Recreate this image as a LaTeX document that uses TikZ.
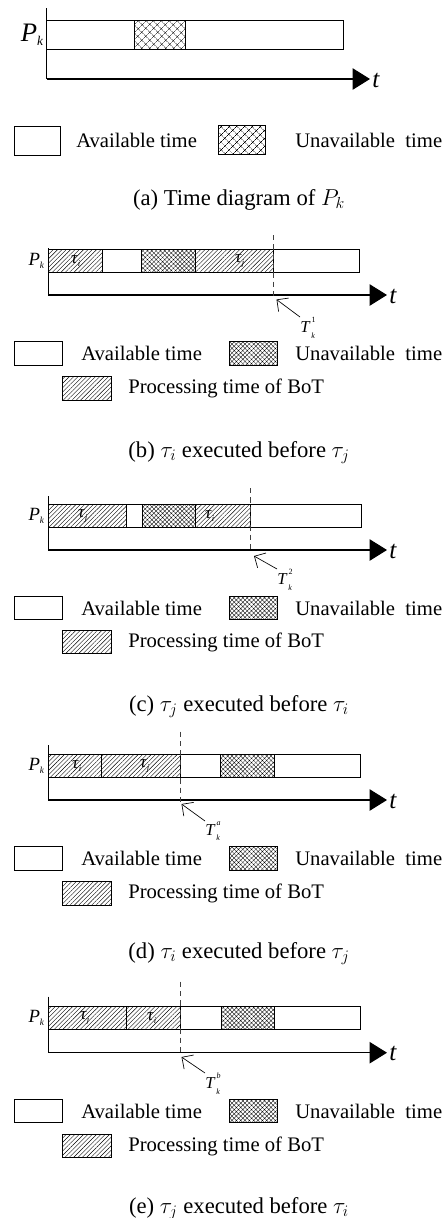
\documentclass[tikz,border=0pt]{standalone}
\usepackage{amsmath}
\usepackage{fontspec}
\setmainfont{Liberation Serif}
\usetikzlibrary{arrows.meta,patterns.meta}

\tikzset{
  bar/.style={draw, line width=0.7pt},
  unavail/.style={draw, line width=0.7pt, pattern={Hatch[angle=45,distance=2.3pt,line width=0.25pt]}},
  unavailwide/.style={draw, line width=0.7pt, pattern={Hatch[angle=45,distance=4pt,line width=0.35pt]}},
  busy/.style={draw, line width=0.7pt, pattern={Lines[angle=45,distance=2.3pt,line width=0.3pt]}},
  axis/.style={line width=0.8pt},
  taxis/.style={line width=0.8pt, -{Triangle[length=13pt,width=16pt]}},
  cutline/.style={line width=0.7pt, black!75, dash pattern=on 4pt off 3pt},
  marker/.style={line width=0.5pt, -{Straight Barb[angle=90:9pt]}},
  plabel/.style={anchor=east, inner sep=0pt, font=\fontsize{14}{16}\selectfont},
  tlabel/.style={anchor=west, inner sep=0pt, font=\fontsize{19}{22}\selectfont\itshape},
  tasklabel/.style={inner sep=0pt, font=\fontsize{13}{15}\selectfont},
  marklabel/.style={anchor=north west, inner sep=0pt, font=\fontsize{12.5}{14}\selectfont},
  legtext/.style={anchor=west, inner sep=0pt, font=\fontsize{15.5}{18}\selectfont},
  caption/.style={anchor=base, inner sep=0pt, font=\fontsize{17}{20}\selectfont}
}
\newcommand{\Pk}{\textit{P}$_{\scriptscriptstyle\textit{k}}$}
\newcommand{\tsk}[1]{\textit{τ}$_{\scriptscriptstyle\textit{#1}}$}
\newcommand{\Tk}[1]{\textit{T}\kern0.8pt\raisebox{0.6em}{\fontsize{6}{7}\selectfont #1}\kern-3.2pt\raisebox{-0.35em}{\fontsize{6}{7}\selectfont\textit{k}}}

\begin{document}
\begin{tikzpicture}[x=0.75pt,y=0.75pt,yscale=-1,xscale=1]
\path[use as bounding box] (0,0) rectangle (443,1218);

%%%% (a) time diagram of P_k
%Axes
\draw[axis] (46.7,8) -- (46.7,79);
\draw[taxis] (46.7,79) -- (370,79);
%Bar
\draw[bar] (46.7,20.7) rectangle (343,49.3);
\draw[unavailwide] (134,20.7) rectangle (185.7,49.3);
% Text Node
\node[plabel, font=\fontsize{20}{22}\selectfont] (Pa) at (44,35) {\Pk};
\node[tlabel] (ta) at (372,80) {t};
%Legend
\draw[bar] (14,126) rectangle (60,155.7);
\node[legtext] (availa) at (76,140.5) {Available time};
\draw[unavailwide] (218,125) rectangle (265.7,154);
\node[legtext] (unavaila) at (295,140) {Unavailable\ \ time};
% Caption
\node[caption] (capa) at (239,205) {(a) Time diagram of $P_k$};

%%%% (b) tau_i before tau_j
\draw[axis] (48.3,248) -- (48.3,295);
\draw[taxis] (48.3,295) -- (387,295);
\draw[busy] (48.3,249) rectangle (102.7,272.3);
\draw[bar] (102.7,249) rectangle (141.3,272.3);
\draw[unavail] (141.3,249) rectangle (195,272.3);
\draw[busy] (195,249) rectangle (273.3,272.3);
\draw[bar] (273.3,249) rectangle (359,272.3);
\node[tasklabel] (tib) at (76,261) {\tsk{i}};
\node[tasklabel] (tjb) at (240,261) {\tsk{j}};
\node[plabel] (Pb) at (45,261) {\Pk};
\node[tlabel] (tb) at (389,296) {t};
%Completion time
\draw[cutline] (273.3,235) -- (273.3,297);
\coordinate (tipb) at (276.5,299.5);
\node[marklabel] (Tb) at (300,317) {\Tk{1}};
\draw[marker] (Tb.north west) -- (tipb);
%Legend
\draw[bar] (14,341.7) rectangle (62.3,365);
\node[legtext] (availb) at (81,353.5) {Available time};
\draw[unavail] (229,341.7) rectangle (277.7,365);
\node[legtext] (unavailb) at (295,353.5) {Unavailable\ \ time};
\draw[busy] (62.3,376.7) rectangle (111,400);
\node[legtext] (busyb) at (128,388.5) {Processing time of BoT};
% Caption
\node[caption] (capb) at (239,457) {(b) $\tau_i$ executed before $\tau_j$};

%%%% (c) tau_j before tau_i
\draw[axis] (48.3,496) -- (48.3,550);
\draw[taxis] (48.3,550) -- (387,550);
\draw[busy] (48.3,504.3) rectangle (126.3,527.7);
\draw[bar] (126.3,504.3) rectangle (142.7,527.7);
\draw[unavail] (142.7,504.3) rectangle (195.7,527.7);
\draw[busy] (195.7,504.3) rectangle (250.7,527.7);
\draw[bar] (250.7,504.3) rectangle (361.7,527.7);
\node[tasklabel] (tjc) at (83,516) {\tsk{j}};
\node[tasklabel] (tic) at (210,516) {\tsk{i}};
\node[plabel] (Pc) at (45,516) {\Pk};
\node[tlabel] (tc) at (389,551) {t};
%Completion time
\draw[cutline] (250.7,488) -- (250.7,553);
\coordinate (tipc) at (254,556);
\node[marklabel] (Tc) at (277,569) {\Tk{2}};
\draw[marker] (Tc.north west) -- (tipc);
%Legend
\draw[bar] (14,596.7) rectangle (62.3,619.3);
\node[legtext] (availc) at (81,608.5) {Available time};
\draw[unavail] (229,596.7) rectangle (277.7,619.3);
\node[legtext] (unavailc) at (295,608.5) {Unavailable\ \ time};
\draw[busy] (62.3,630) rectangle (111,653.3);
\node[legtext] (busyc) at (128,642) {Processing time of BoT};
% Caption
\node[caption] (capc) at (239,711) {(c) $\tau_j$ executed before $\tau_i$};

%%%% (d) tau_i before tau_j
\draw[axis] (48.3,745) -- (48.3,800);
\draw[taxis] (48.3,800) -- (387,800);
\draw[busy] (48.3,754) rectangle (101.7,777.3);
\draw[busy] (101.7,754) rectangle (180,777.3);
\draw[bar] (180,754) rectangle (220.7,777.3);
\draw[unavail] (220.7,754) rectangle (274.3,777.3);
\draw[bar] (274.3,754) rectangle (360.7,777.3);
\node[tasklabel] (tid) at (77,766) {\tsk{i}};
\node[tasklabel] (tjd) at (145,766) {\tsk{j}};
\node[plabel] (Pd) at (45,766) {\Pk};
\node[tlabel] (td) at (389,801) {t};
%Completion time
\draw[cutline] (180,731.7) -- (180,802);
\coordinate (tipd) at (181.5,804);
\node[marklabel] (Td) at (205,821) {\Tk{\textit{a}}};
\draw[marker] (Td.north west) -- (tipd);
%Legend
\draw[bar] (14,846.7) rectangle (62.3,870.7);
\node[legtext] (availd) at (81,858.5) {Available time};
\draw[unavail] (229,846.7) rectangle (277.7,870.7);
\node[legtext] (unavaild) at (295,858.5) {Unavailable\ \ time};
\draw[busy] (62.3,881.7) rectangle (111,905);
\node[legtext] (busyd) at (128,893.5) {Processing time of BoT};
% Caption
\node[caption] (capd) at (239,958) {(d) $\tau_i$ executed before $\tau_j$};

%%%% (e) tau_j before tau_i
\draw[axis] (48.3,996.7) -- (48.3,1052.7);
\draw[taxis] (48.3,1052.7) -- (387,1052.7);
\draw[busy] (48.3,1006) rectangle (126.3,1029.3);
\draw[busy] (126.3,1006) rectangle (180,1029.3);
\draw[bar] (180,1006) rectangle (221,1029.3);
\draw[unavail] (221,1006) rectangle (274.3,1029.3);
\draw[bar] (274.3,1006) rectangle (360.7,1029.3);
\node[tasklabel] (tje) at (85,1018) {\tsk{j}};
\node[tasklabel] (tie) at (152,1018) {\tsk{i}};
\node[plabel] (Pe) at (45,1018) {\Pk};
\node[tlabel] (te) at (389,1053.7) {t};
%Completion time
\draw[cutline] (180,981.7) -- (180,1055);
\coordinate (tipe) at (181.5,1057);
\node[marklabel] (Te) at (205,1073) {\Tk{\textit{b}}};
\draw[marker] (Te.north west) -- (tipe);
%Legend
\draw[bar] (14,1099.3) rectangle (62.3,1122.3);
\node[legtext] (availe) at (81,1111) {Available time};
\draw[unavail] (229,1099.3) rectangle (277.7,1122.3);
\node[legtext] (unavaile) at (295,1111) {Unavailable\ \ time};
\draw[busy] (62.3,1134.3) rectangle (111,1157.7);
\node[legtext] (busye) at (128,1146) {Processing time of BoT};
% Caption
\node[caption] (cape) at (239,1213) {(e) $\tau_j$ executed before $\tau_i$};

\end{tikzpicture}
\end{document}
